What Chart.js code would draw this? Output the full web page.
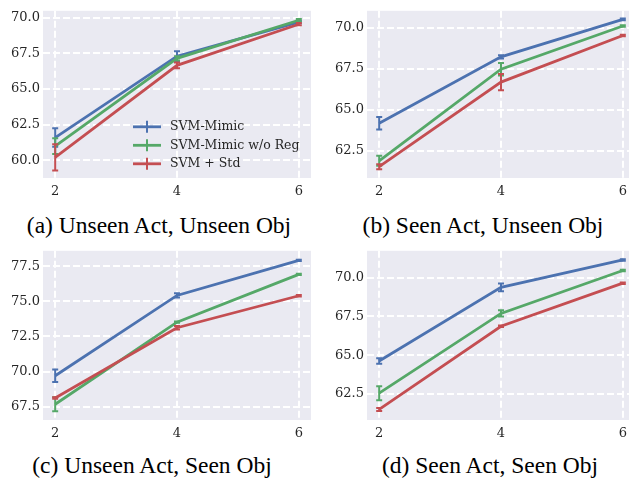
<!DOCTYPE html>
<html>
<head>
<meta charset="utf-8">
<script src="https://cdn.jsdelivr.net/npm/chart.js@4"></script>
<style>
body { margin: 0; width: 629px; height: 481px; overflow: hidden; position: relative; background: #fff; }
canvas { position: absolute; }
.cap { position: absolute; font-family: 'Liberation Serif', serif; font-size: 23.5px; line-height: 23.5px; white-space: nowrap; color: #000; transform: translateX(-50%); }
</style>
</head>
<body>
<canvas id="ca" style="left:0;top:0" width="315" height="200"></canvas>
<canvas id="cb" style="left:324px;top:0" width="311" height="200"></canvas>
<canvas id="cc" style="left:0;top:240px" width="315" height="202"></canvas>
<canvas id="cd" style="left:324px;top:240px" width="311" height="202"></canvas>
<div class="cap" style="left:159px;top:214px">(a) Unseen Act, Unseen Obj</div>
<div class="cap" style="left:483px;top:214px">(b) Seen Act, Unseen Obj</div>
<div class="cap" style="left:152px;top:454px">(c) Unseen Act, Seen Obj</div>
<div class="cap" style="left:490px;top:454px">(d) Seen Act, Seen Obj</div>
<script>
const xVals = [2, 4, 6];
const xTicks = [2, 4, 6];
const seriesNames = ['SVM-Mimic', 'SVM-Mimic w/o Reg', 'SVM + Std'];
const colors = ['#4c72b0', '#55a868', '#c44e52'];

// (a) Unseen Act, Unseen Obj
const aMimic = [61.6, 67.3, 69.68];
const aNoReg = [61.0, 67.15, 69.82];
const aStd = [60.22, 66.66, 69.54];
const aMimicErr = [0.65, 0.35, 0.08];
const aNoRegErr = [0.55, 0.15, 0.08];
const aStdErr = [0.92, 0.2, 0.08];
const aTicks = [60, 62.5, 65, 67.5, 70];

// (b) Seen Act, Unseen Obj
const bMimic = [64.17, 68.22, 70.51];
const bNoReg = [61.88, 67.47, 70.1];
const bStd = [61.52, 66.68, 69.52];
const bMimicErr = [0.38, 0.1, 0.05];
const bNoRegErr = [0.3, 0.38, 0.05];
const bStdErr = [0.15, 0.5, 0.05];
const bTicks = [62.5, 65, 67.5, 70];

// (c) Unseen Act, Seen Obj
const cMimic = [69.7, 75.42, 77.92];
const cNoReg = [67.67, 73.52, 76.92];
const cStd = [68.12, 73.12, 75.4];
const cMimicErr = [0.45, 0.15, 0.05];
const cNoRegErr = [0.5, 0.05, 0.05];
const cStdErr = [0.05, 0.12, 0.05];
const cTicks = [67.5, 70, 72.5, 75, 77.5];

// (d) Seen Act, Seen Obj
const dMimic = [64.63, 69.38, 71.15];
const dNoReg = [62.55, 67.7, 70.47];
const dStd = [61.5, 66.87, 69.65];
const dMimicErr = [0.18, 0.25, 0.05];
const dNoRegErr = [0.45, 0.2, 0.05];
const dStdErr = [0.1, 0.05, 0.05];
const dTicks = [62.5, 65, 67.5, 70];

const tickFont = { family: 'DejaVu Serif', size: 13 };

// grey plot background
const bgPlugin = {
  id: 'bg',
  beforeDraw(chart) {
    const a = chart.chartArea, c = chart.ctx;
    c.save();
    c.fillStyle = '#eaeaf2';
    c.fillRect(a.left, a.top, a.right - a.left, a.bottom - a.top);
    c.restore();
  }
};

// vertical error bars with caps
const errPlugin = {
  id: 'err',
  afterDatasetDraw(chart, args) {
    const ds = chart.data.datasets[args.index];
    const xs = chart.scales.x, ys = chart.scales.y, c = chart.ctx;
    c.save();
    c.strokeStyle = ds.borderColor;
    c.lineWidth = 2;
    ds.data.forEach((p, i) => {
      const e = ds.errors[i];
      const px = xs.getPixelForValue(p.x);
      const top = ys.getPixelForValue(p.y + e), bot = ys.getPixelForValue(p.y - e);
      c.beginPath();
      c.moveTo(px, top); c.lineTo(px, bot);
      c.moveTo(px - 3, top); c.lineTo(px + 3, top);
      c.moveTo(px - 3, bot); c.lineTo(px + 3, bot);
      c.stroke();
    });
    c.restore();
  }
};

// legend inside the plot of panel (a)
const legendPlugin = {
  id: 'inLegend',
  afterDraw(chart) {
    const a = chart.chartArea, c = chart.ctx;
    c.save();
    c.font = '12.5px "DejaVu Serif"';
    c.textBaseline = 'middle';
    chart.data.datasets.forEach((ds, i) => {
      const x = a.left + 90, y = a.top + 116 + i * 18.5;
      c.strokeStyle = ds.borderColor;
      c.lineWidth = 2.8;
      c.beginPath(); c.moveTo(x, y); c.lineTo(x + 28, y); c.stroke();
      c.lineWidth = 2;
      c.beginPath(); c.moveTo(x + 14, y - 6); c.lineTo(x + 14, y + 6); c.stroke();
      c.fillStyle = '#262626';
      c.fillText(ds.label, x + 37, y);
    });
    c.restore();
  }
};

function makeChart(id, yMin, yMax, yTicks, values, errors, rightPad, withLegend) {
  return new Chart(document.getElementById(id), {
    type: 'line',
    data: {
      datasets: seriesNames.map((name, i) => ({
        label: name,
        data: xVals.map((x, j) => ({ x: x, y: values[i][j] })),
        errors: errors[i],
        borderColor: colors[i],
        backgroundColor: colors[i],
        borderWidth: 2.8,
        pointRadius: 0,
        tension: 0,
        order: 3 - i
      }))
    },
    options: {
      responsive: false,
      animation: false,
      layout: { padding: { top: 7, right: rightPad, left: 0, bottom: 0 } },
      plugins: { legend: { display: false }, tooltip: { enabled: false } },
      scales: {
        x: {
          type: 'linear', min: 1.8, max: 6.2,
          afterBuildTicks: s => { s.ticks = xTicks.map(v => ({ value: v })); },
          afterFit: s => { s.height = 22; },
          grid: { color: '#fff', lineWidth: 2, drawTicks: false },
          border: { display: false, dash: [7, 3] },
          ticks: { color: '#262626', font: tickFont, padding: 6, maxRotation: 0, callback: v => String(v) }
        },
        y: {
          min: yMin, max: yMax,
          afterBuildTicks: s => { s.ticks = yTicks.map(v => ({ value: v })); },
          afterFit: s => { s.width = 43; },
          grid: { color: '#fff', lineWidth: 2, drawTicks: false },
          border: { display: false, dash: [7, 3] },
          ticks: { color: '#262626', font: tickFont, padding: 3, callback: v => v.toFixed(1) }
        }
      }
    },
    plugins: withLegend ? [bgPlugin, errPlugin, legendPlugin] : [bgPlugin, errPlugin]
  });
}

makeChart('ca', 58.77, 70.48, aTicks, [aMimic, aNoReg, aStd], [aMimicErr, aNoRegErr, aStdErr], 4, true);
makeChart('cb', 60.83, 71.03, bTicks, [bMimic, bNoReg, bStd], [bMimicErr, bNoRegErr, bStdErr], 0, false);
makeChart('cc', 66.55, 78.6, cTicks, [cMimic, cNoReg, cStd], [cMimicErr, cNoRegErr, cStdErr], 4, false);
makeChart('cd', 60.82, 71.74, dTicks, [dMimic, dNoReg, dStd], [dMimicErr, dNoRegErr, dStdErr], 0, false);
</script>
</body>
</html>
